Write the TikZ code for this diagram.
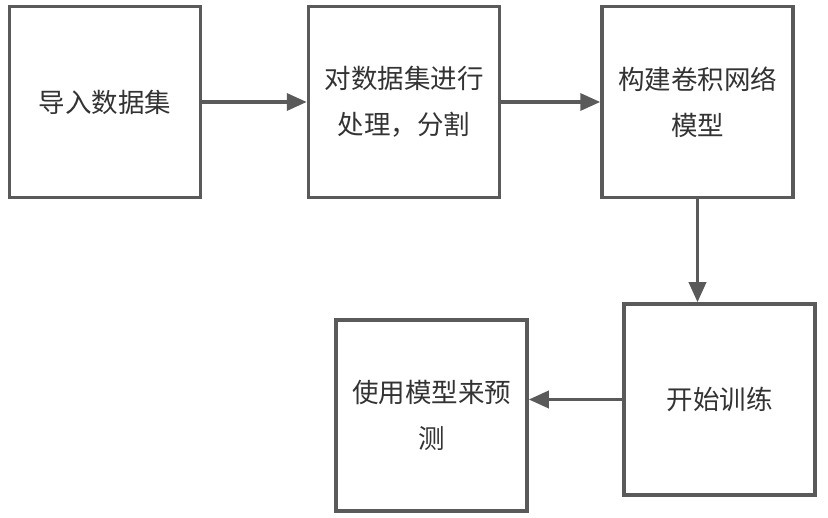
\documentclass[tikz,border=0pt]{standalone}
\usepackage{fontspec}
\setmainfont{Noto Sans CJK SC}
\usetikzlibrary{arrows.meta}
\definecolor{edgegray}{HTML}{5A5A5A}
\definecolor{txtgray}{HTML}{333333}
\begin{document}
\begin{tikzpicture}[x=1pt,y=-1pt,
  box/.style={draw=edgegray,line width=3.5pt,fill=white,minimum width=191pt,minimum height=191pt,
    inner sep=0pt,text=txtgray,align=center,font=\fontsize{26.5}{46}\selectfont},
  flow/.style={draw=edgegray,line width=3.5pt,-{Triangle[length=20pt,width=17pt]}}]
\useasboundingbox (0,0) rectangle (828,518);
\node[box] (b1) at (105,102) {导入数据集};
\node[box] (b2) at (404,102) {对数据集进行\\处理，分割};
\node[box] (b3) at (697.5,102) {构建卷积网络\\模型};
\node[box] (b4) at (719.5,399.5) {开始训练};
\node[box] (b5) at (431.5,415.5) {使用模型来预\\测};
\draw[flow] (b1.east) -- (b2.west);
\draw[flow] (b2.east) -- (b3.west);
\draw[flow] (b3.south) -- (b3.south |- b4.north);
\draw[flow] (b4.west) -- (b4.west -| b5.east);
\end{tikzpicture}
\end{document}
